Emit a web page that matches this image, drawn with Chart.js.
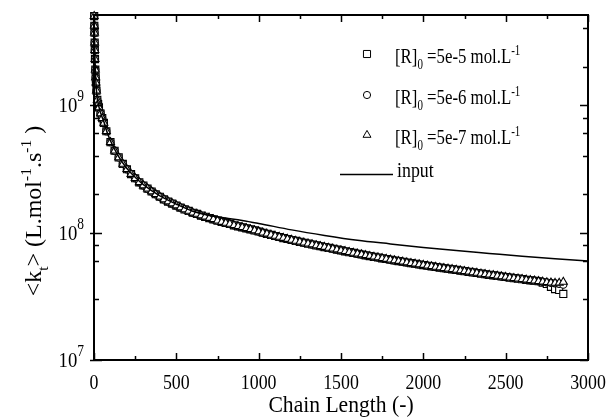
<!DOCTYPE html>
<html>
<head>
<meta charset="utf-8">
<script src="https://cdn.jsdelivr.net/npm/chart.js@4/dist/chart.umd.min.js"></script>
<style>
  html, body { margin: 0; padding: 0; background: #fff; }
</style>
</head>
<body>
<canvas id="ktChart" width="610" height="419"></canvas>
<script>
// <kt> vs chain length, values in units of 1e8 L/mol/s
const UNIT = 1e8;

const chainLength = [1, 2, 3, 4, 5, 6, 8, 10, 12, 15, 20, 25, 30, 40, 50, 60, 75,
  100, 125, 150, 175, 200, 225, 250, 275, 300, 325, 350, 375, 400, 425, 450, 475,
  500, 525, 550, 575, 600, 625, 650, 675, 700, 725, 750, 775, 800, 825, 850, 875,
  900, 925, 950, 975, 1000, 1025, 1050, 1075, 1100, 1125, 1150, 1175, 1200, 1225,
  1250, 1275, 1300, 1325, 1350, 1375, 1400, 1425, 1450, 1475, 1500, 1525, 1550,
  1575, 1600, 1625, 1650, 1675, 1700, 1725, 1750, 1775, 1800, 1825, 1850, 1875,
  1900, 1925, 1950, 1975, 2000, 2025, 2050, 2075, 2100, 2125, 2150, 2175, 2200,
  2225, 2250, 2275, 2300, 2325, 2350, 2375, 2400, 2425, 2450, 2475, 2500, 2525,
  2550, 2575, 2600, 2625, 2650, 2675, 2700];

// the three initial radical concentrations lie on top of each other up to ~2700
const ktShared = [50, 42, 37, 31, 27, 23, 19, 16.5, 15, 13, 11, 10.2, 9.6, 8.6, 7.9, 7.25, 6.24,
  5.12, 4.39, 3.89, 3.46, 3.14, 2.88, 2.67, 2.48, 2.34, 2.21, 2.10, 2.00, 1.91, 1.82, 1.75, 1.69,
  1.63, 1.57, 1.52, 1.48, 1.43, 1.40, 1.36, 1.33, 1.30, 1.27, 1.24, 1.21, 1.19, 1.17, 1.14, 1.12,
  1.10, 1.08, 1.06, 1.04, 1.02, 0.997, 0.978, 0.959, 0.940, 0.923, 0.906, 0.890, 0.875, 0.860,
  0.846, 0.832, 0.819, 0.806, 0.793, 0.781, 0.770, 0.758, 0.747, 0.735, 0.724, 0.713, 0.702,
  0.692, 0.682, 0.673, 0.663, 0.654, 0.645, 0.637, 0.628, 0.620, 0.612, 0.604, 0.597, 0.590,
  0.582, 0.575, 0.569, 0.562, 0.556, 0.549, 0.543, 0.537, 0.531, 0.525, 0.520, 0.515, 0.509,
  0.503, 0.498, 0.492, 0.487, 0.482, 0.476, 0.471, 0.466, 0.462, 0.457, 0.452, 0.448, 0.443,
  0.439, 0.435, 0.431, 0.426, 0.422, 0.419, 0.415];

const tailLength = [2725, 2750, 2775, 2800, 2825, 2850];
const tail5e5 = [0.405, 0.395, 0.375, 0.360, 0.355, 0.330];
const tail5e6 = [0.411, 0.407, 0.403, 0.400, 0.396, 0.390];
const tail5e7 = [0.411, 0.407, 0.404, 0.402, 0.403, 0.410];

const inputLength = [1, 2, 3, 4, 5, 6, 8, 10, 15, 20, 30, 40, 50, 60, 80, 100, 150, 200, 250,
  300, 400, 500, 600, 700, 800, 900, 1000, 1200, 1400, 1600, 1800, 2000, 2200, 2400, 2600,
  2800, 3000];
const inputKt = [50, 42, 37, 31, 27, 23, 19, 16.5, 13, 11.2, 9.7, 8.7, 8.0, 7.4, 6.1, 5.25, 3.94,
  3.18, 2.72, 2.38, 1.94, 1.67, 1.47, 1.36, 1.30, 1.245, 1.18, 1.05, 0.95, 0.87, 0.815, 0.765,
  0.722, 0.686, 0.652, 0.623, 0.597];

const r0Labels = ['5e-5', '5e-6', '5e-7'];
const xRange = [0, 3000];
const yRange = [1e7, 5.1e9];

const SERIF = '"Liberation Serif", "Times New Roman", serif';

function toPoints(xs, ys) {
  return xs.map((x, i) => ({ x: x, y: ys[i] * UNIT }));
}

// draws text made of normal / sub / sup pieces
function drawRich(ctx, parts, x, y, opt) {
  const size = opt.size;
  const small = opt.small || 0.65;
  const fontOf = s => s.toFixed(1) + 'px ' + SERIF;
  let w = 0;
  parts.forEach(([txt, mode]) => {
    ctx.font = fontOf(mode ? size * small : size);
    w += ctx.measureText(txt).width;
  });
  let cx = opt.align === 'center' ? -w / 2 : opt.align === 'right' ? -w : 0;
  ctx.save();
  ctx.translate(x, y);
  if (opt.rotate) ctx.rotate(opt.rotate);
  ctx.scale(opt.squeeze || 1, 1);
  ctx.fillStyle = '#000';
  ctx.textAlign = 'left';
  ctx.textBaseline = 'alphabetic';
  parts.forEach(([txt, mode]) => {
    ctx.font = fontOf(mode ? size * small : size);
    const dy = mode === 'sup' ? -size * (opt.up || 0.4) : mode === 'sub' ? size * (opt.down || 0.28) : 0;
    ctx.fillText(txt, cx, dy);
    cx += ctx.measureText(txt).width;
  });
  ctx.restore();
}

const isDecade = v => Math.abs(Math.log10(v) - Math.round(Math.log10(v))) < 1e-9;

const framePlugin = {
  id: 'frame',
  afterDatasetsDraw(chart) {
    const { ctx, chartArea: a } = chart;
    const xs = chart.scales.x, ys = chart.scales.y;
    ctx.save();
    ctx.strokeStyle = '#000';
    ctx.lineWidth = 1.5;
    ctx.beginPath();
    xs.ticks.forEach(t => {
      const px = Math.round(xs.getPixelForValue(t.value)) + 0.5;
      const len = t.value % 500 === 0 ? 7 : 4;
      ctx.moveTo(px, a.bottom); ctx.lineTo(px, a.bottom - len);
      ctx.moveTo(px, a.top); ctx.lineTo(px, a.top + len);
    });
    ys.ticks.forEach(t => {
      const v = t.value;
      const mant = v / Math.pow(10, Math.floor(Math.log10(v) + 1e-9));
      if (Math.abs(mant - Math.round(mant)) > 1e-6) return;
      const py = Math.round(ys.getPixelForValue(v)) + 0.5;
      const major = isDecade(v);
      const len = major ? 8 : 5;
      ctx.moveTo(a.left - (major ? 4 : 0), py); ctx.lineTo(a.left + len, py);
      ctx.moveTo(a.right, py); ctx.lineTo(a.right - len, py);
    });
    ctx.stroke();
    ctx.lineWidth = 2;
    ctx.strokeRect(a.left, a.top, a.right - a.left, a.bottom - a.top);
    ctx.restore();
  },
  afterDraw(chart) {
    const { ctx, chartArea: a } = chart;
    const xs = chart.scales.x, ys = chart.scales.y;
    // x tick labels
    xs.ticks.forEach(t => {
      if (t.value % 500 !== 0) return;
      drawRich(ctx, [[String(t.value), '']], xs.getPixelForValue(t.value), a.bottom + 29,
        { size: 21, squeeze: 0.85, align: 'center' });
    });
    // y tick labels 10^n
    ys.ticks.forEach(t => {
      if (!isDecade(t.value)) return;
      const exp = Math.round(Math.log10(t.value));
      drawRich(ctx, [['10', ''], [String(exp), 'sup']], a.left - 10, ys.getPixelForValue(t.value) + 7,
        { size: 22, squeeze: 0.85, align: 'right', small: 0.72, up: 0.5 });
    });
    // axis titles
    drawRich(ctx, [['Chain Length (-)', '']], (a.left + a.right) / 2, a.bottom + 52,
      { size: 24, squeeze: 0.9, align: 'center' });
    drawRich(ctx, [['<k', ''], ['t', 'sub'], ['> (L.mol', ''], ['-1', 'sup'], ['.s', ''], ['-1', 'sup'], [' )', '']],
      41, 211, { size: 24, align: 'center', rotate: -Math.PI / 2, small: 0.65, up: 0.42, down: 0.3 });

    // legend
    const ds = chart.data.datasets;
    const rows = [
      { d: ds[3], label: r0Labels[0], base: 63 },
      { d: ds[2], label: r0Labels[1], base: 104 },
      { d: ds[1], label: r0Labels[2], base: 144 }
    ];
    rows.forEach(r => {
      ctx.save();
      ctx.strokeStyle = '#000';
      ctx.fillStyle = '#fff';
      ctx.lineWidth = 1;
      Chart.helpers.drawPoint(ctx, { pointStyle: r.d.pointStyle, radius: r.d.pointRadius, rotation: 0, borderWidth: 1 },
        367, r.base - 9);
      ctx.restore();
      drawRich(ctx, [['[R]', ''], ['0', 'sub'], [' =' + r.label + ' mol.L', ''], ['-1', 'sup']], 395, r.base,
        { size: 21, squeeze: 0.8, small: 0.65, up: 0.4, down: 0.28 });
    });
    ctx.save();
    ctx.strokeStyle = '#000';
    ctx.lineWidth = 1.5;
    ctx.beginPath();
    ctx.moveTo(340, 174.5); ctx.lineTo(393, 174.5);
    ctx.stroke();
    ctx.restore();
    drawRich(ctx, [[ds[0].label, '']], 397, 177, { size: 21, squeeze: 0.85 });
  }
};

const markerBase = {
  showLine: false,
  borderColor: '#000',
  backgroundColor: '#fff',
  borderWidth: 1.1,
  clip: false
};

const allLength = chainLength.concat(tailLength);

new Chart(document.getElementById('ktChart'), {
  type: 'scatter',
  data: {
    datasets: [{
      label: 'input',
      data: toPoints(inputLength, inputKt),
      showLine: true,
      borderColor: '#000',
      borderWidth: 1.5,
      pointRadius: 0,
      cubicInterpolationMode: 'monotone',
      order: 0
    }, {
      ...markerBase,
      label: r0Labels[2],
      data: toPoints(allLength, ktShared.concat(tail5e7)),
      pointStyle: 'triangle',
      pointRadius: 4.6,
      order: 1
    }, {
      ...markerBase,
      label: r0Labels[1],
      data: toPoints(allLength, ktShared.concat(tail5e6)),
      pointStyle: 'circle',
      pointRadius: 3.6,
      order: 2
    }, {
      ...markerBase,
      label: r0Labels[0],
      data: toPoints(allLength, ktShared.concat(tail5e5)),
      pointStyle: 'rect',
      pointRadius: 5,
      order: 3
    }]
  },
  options: {
    responsive: false,
    animation: false,
    layout: { padding: { left: 94, right: 22, top: 15, bottom: 59 } },
    plugins: { legend: { display: false }, tooltip: { enabled: false } },
    scales: {
      x: { type: 'linear', display: false, min: xRange[0], max: xRange[1], ticks: { stepSize: 250 } },
      y: { type: 'logarithmic', display: false, min: yRange[0], max: yRange[1] }
    }
  },
  plugins: [framePlugin]
});
</script>
</body>
</html>
